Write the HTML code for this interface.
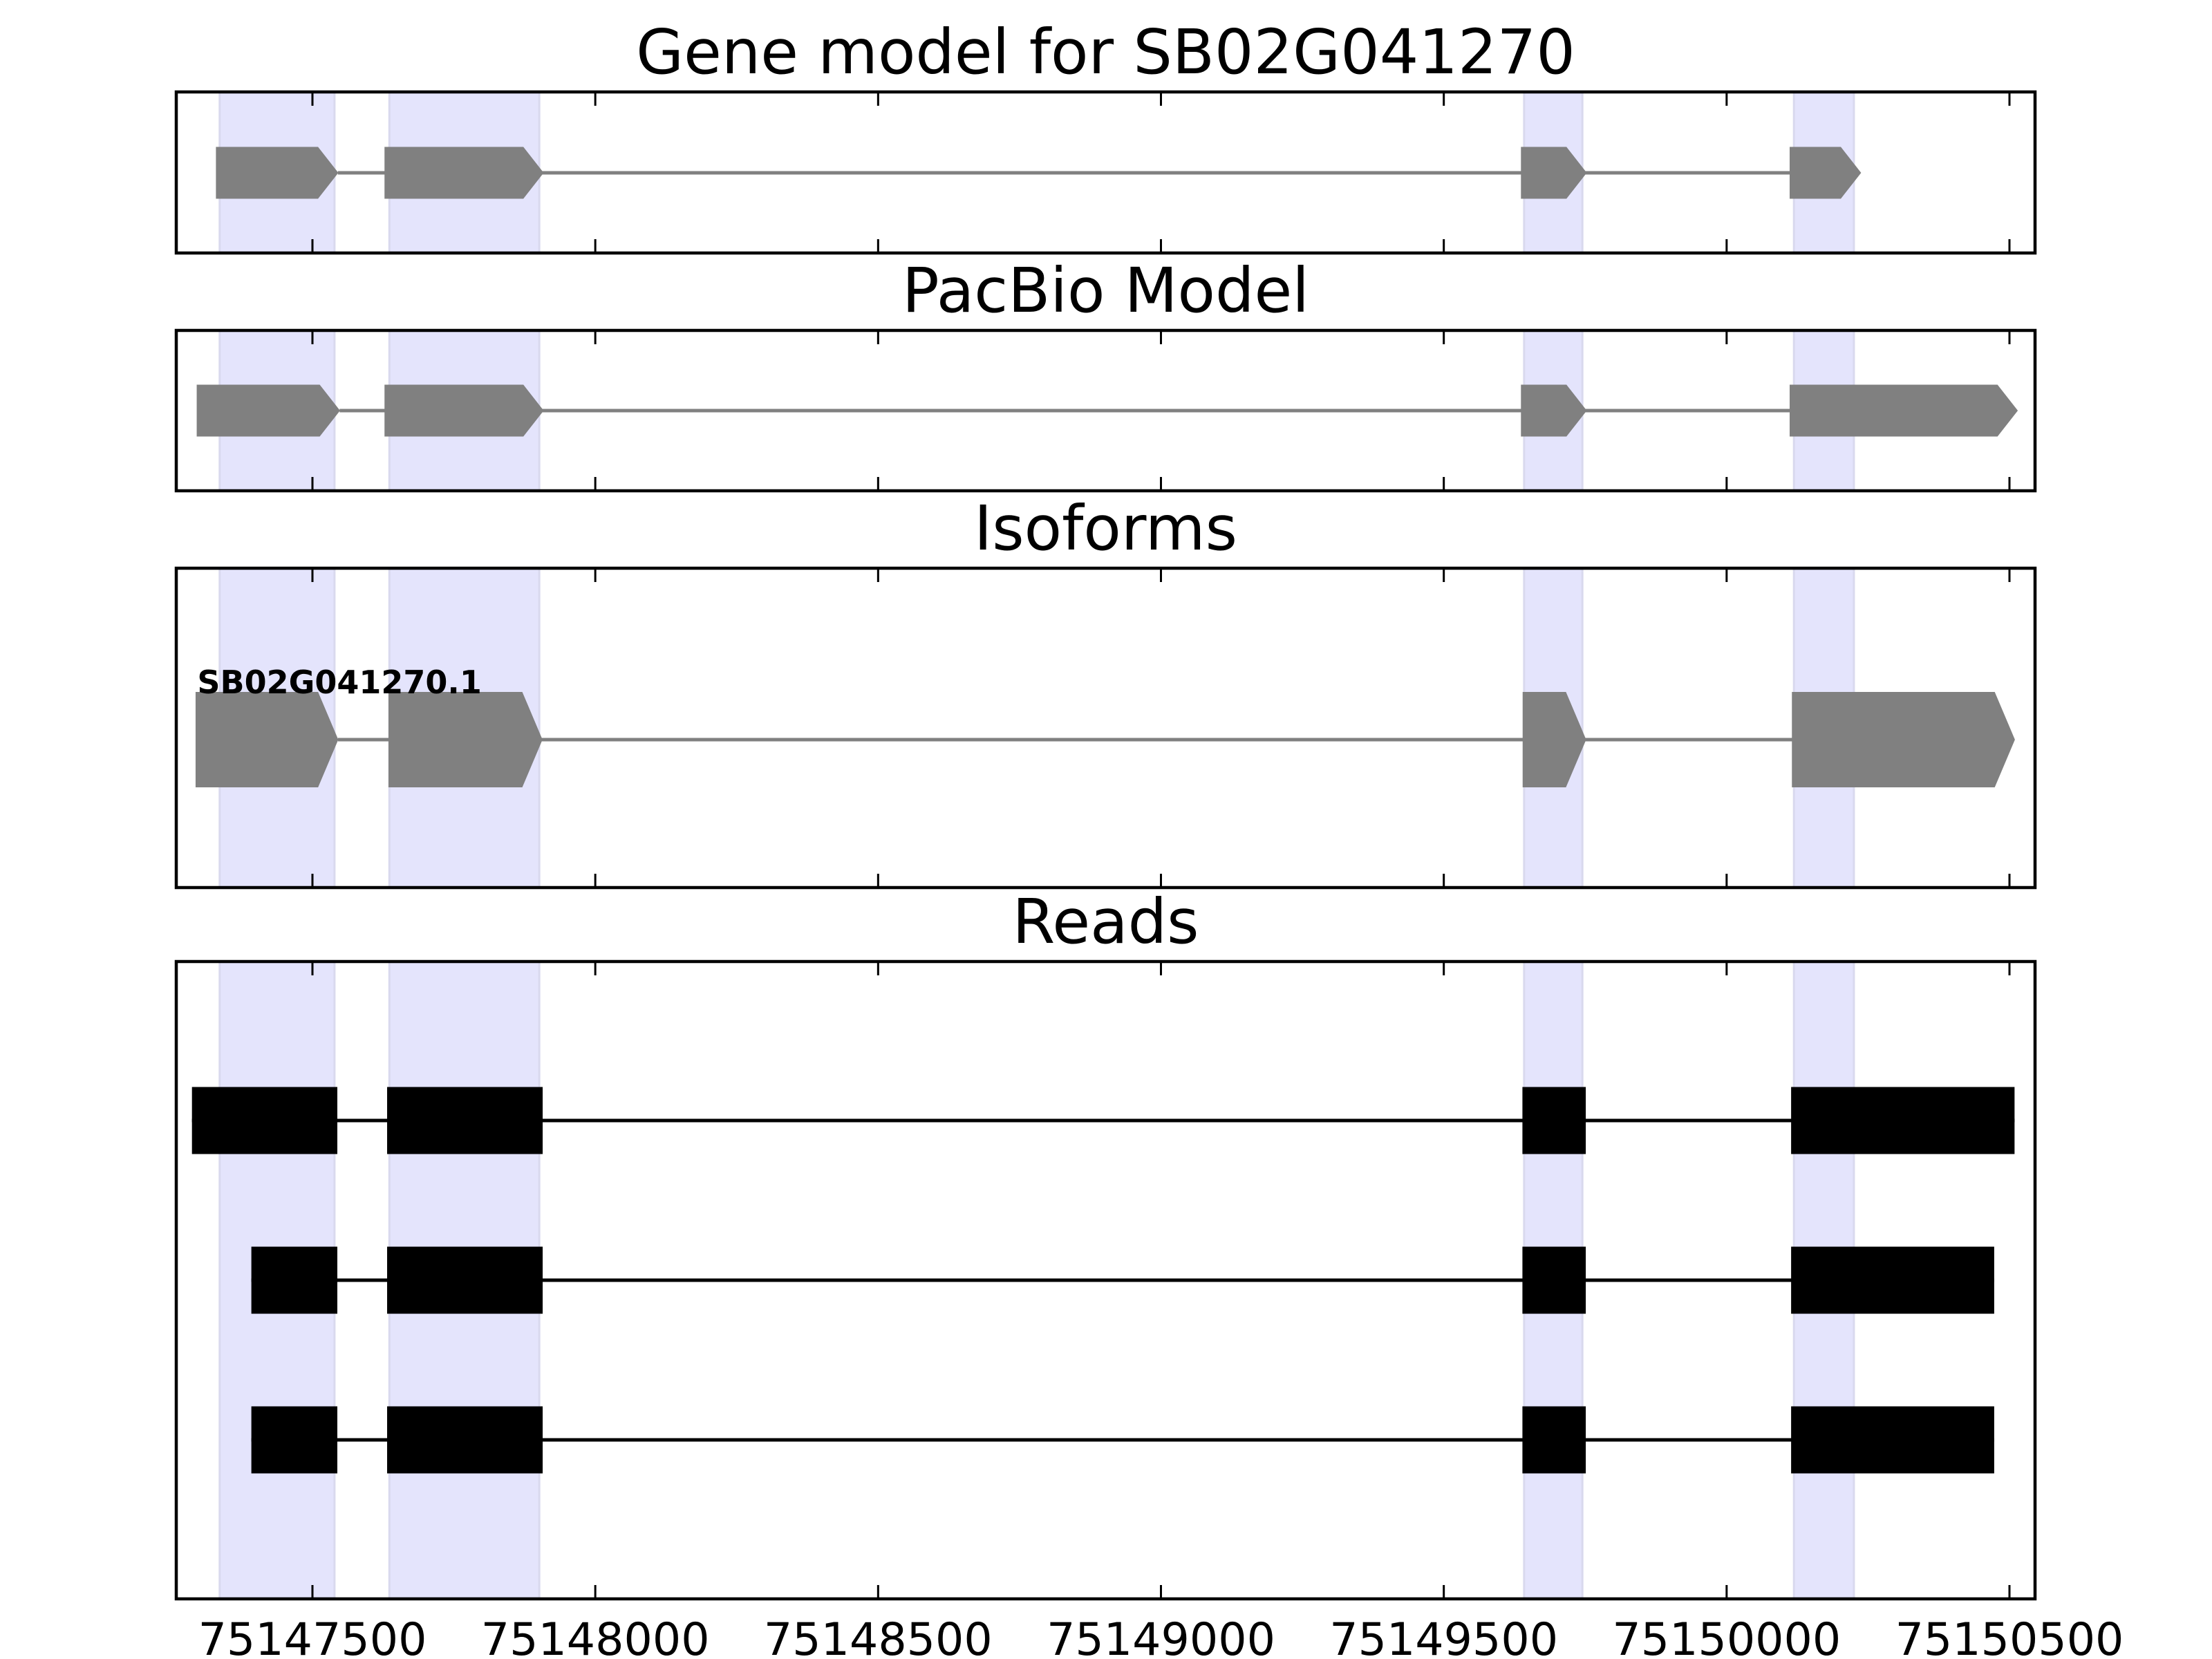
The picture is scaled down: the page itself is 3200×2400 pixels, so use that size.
<!DOCTYPE html>
<html><head><meta charset="utf-8"><style>
html,body{margin:0;padding:0;background:#fff;}
svg{display:block;font-family:"DejaVu Sans","Liberation Sans",sans-serif;}
</style></head><body>
<svg id="chart" width="3200" height="2400" viewBox="0 0 3200 2400" xmlns="http://www.w3.org/2000/svg"></svg>
<script>
// ---- data ----
const tickValues = [75147500, 75148000, 75148500, 75149000, 75149500, 75150000, 75150500];
const tickLabels = ["75147500","75148000","75148500","75149000","75149500","75150000","75150500"];
const panelTitles = ["Gene model for SB02G041270", "PacBio Model", "Isoforms", "Reads"];
const shadedStarts = [75147336, 75147636, 75149642, 75150119];
const shadedEnds   = [75147539, 75147901, 75149745, 75150225];
const geneExonStarts = [75147330, 75147628, 75149637, 75150112];
const geneExonEnds   = [75147545, 75147908, 75149752, 75150237];
const pacbioExonStarts = [75147296, 75147628, 75149637, 75150112];
const pacbioExonEnds   = [75147548, 75147908, 75149752, 75150514];
const isoformExonStarts = [75147294, 75147635, 75149640, 75150116];
const isoformExonEnds   = [75147545, 75147906, 75149751, 75150509];
const isoformLabels = ["SB02G041270.1"];
const read1Starts = [75147287, 75147632, 75149639, 75150114];
const read1Ends   = [75147544, 75147907, 75149751, 75150509];
const read2Starts = [75147392, 75147632, 75149639, 75150114];
const read2Ends   = [75147544, 75147907, 75149751, 75150473];
const read3Starts = [75147392, 75147632, 75149639, 75150114];
const read3Ends   = [75147544, 75147907, 75149751, 75150473];

// ---- layout ----
const NS = "http://www.w3.org/2000/svg";
const svg = document.getElementById('chart');
const X0 = 255, X1 = 2944;
const xMin = 75147500 - (452 - X0) / 0.81833, xMax = 75150500 + (X1 - 2907) / 0.81833;
function xs(v){ return X0 + (v - xMin) / (xMax - xMin) * (X1 - X0); }
const panels = [{top:133,bot:366},{top:478,bot:710},{top:822,bot:1284},{top:1391,bot:2313}];

function mk(tag, attrs, parent){
  const e = document.createElementNS(NS, tag);
  for (const k in attrs) e.setAttribute(k, attrs[k]);
  (parent || svg).appendChild(e);
  return e;
}

function drawPanelBase(i, name){
  const p = panels[i];
  const g = mk('g', {});
  
  
  for (let k = 0; k < shadedStarts.length; k++){
    const r = mk('rect', {x: xs(shadedStarts[k]), y: p.top, width: xs(shadedEnds[k]) - xs(shadedStarts[k]), height: p.bot - p.top, fill: '#e4e4fc', stroke: '#d9d9ee', 'stroke-width': 3}, g);
    
    
  }
  const t = mk('text', {x: (X0 + X1) / 2, y: p.top - 27, 'text-anchor': 'middle', 'font-size': 89, fill: '#000'}, svg);
  t.textContent = panelTitles[i];
  
  
  return g;
}

function drawFrame(i, name, withLabels){
  const p = panels[i];
  const g = mk('g', {});
  
  
  for (let k = 0; k < tickValues.length; k++){
    const x = xs(tickValues[k]);
    const t1 = mk('line', {x1: x, x2: x, y1: p.top, y2: p.top + 20, stroke: '#000', 'stroke-width': 3}, g);
    
    
    const t2 = mk('line', {x1: x, x2: x, y1: p.bot, y2: p.bot - 20, stroke: '#000', 'stroke-width': 3}, g);
    
    
    if (withLabels){
      const tl = mk('text', {x: x, y: 2394, 'text-anchor': 'middle', 'font-size': 65, fill: '#000'}, g);
      tl.textContent = tickLabels[k];
      
      
    }
  }
  const fr = mk('rect', {x: X0, y: p.top, width: X1 - X0, height: p.bot - p.top, fill: 'none', stroke: '#000', 'stroke-width': 4.5}, g);
  
  
}

function drawArrowModel(g, starts, ends, cy, h, name){
  const ln = mk('line', {x1: xs(ends[0]), x2: xs(starts[starts.length-1]), y1: cy, y2: cy, stroke: '#808080', 'stroke-width': 5}, g);
  
  
  const head = 29;
  for (let k = 0; k < starts.length; k++){
    const a = xs(starts[k]), b = xs(ends[k]);
    const f = Math.max(a, b - head);
    const pts = [[a, cy - h/2], [f, cy - h/2], [b, cy], [f, cy + h/2], [a, cy + h/2]].map(q => q.join(',')).join(' ');
    const e = mk('polygon', {points: pts, fill: '#808080', stroke: '#808080', 'stroke-width': 1}, g);
    
    
  }
}

function drawRead(g, starts, ends, cy, idx){
  const ln = mk('line', {x1: xs(starts[0]), x2: xs(ends[ends.length-1]), y1: cy, y2: cy, stroke: '#000', 'stroke-width': 5}, g);
  
  
  for (let k = 0; k < starts.length; k++){
    const r = mk('rect', {x: xs(starts[k]), y: cy - 48.5, width: xs(ends[k]) - xs(starts[k]), height: 97, fill: '#000'}, g);
    
    
  }
}

let g = drawPanelBase(0, 'gene-model');
drawArrowModel(g, geneExonStarts, geneExonEnds, 250, 74, 'gene-model');
drawFrame(0, 'gene-model', false);
g = drawPanelBase(1, 'pacbio-model');
drawArrowModel(g, pacbioExonStarts, pacbioExonEnds, 594, 74, 'pacbio');
drawFrame(1, 'pacbio-model', false);
g = drawPanelBase(2, 'isoforms');
drawArrowModel(g, isoformExonStarts, isoformExonEnds, 1070, 137, 'isoform');
const il = mk('text', {x: xs(isoformExonStarts[0]) + 2, y: 1003, 'font-size': 46, 'font-weight': 'bold', fill: '#000'}, g);
il.textContent = isoformLabels[0];


drawFrame(2, 'isoforms', false);
g = drawPanelBase(3, 'reads');
drawRead(g, read1Starts, read1Ends, 1621, 1);
drawRead(g, read2Starts, read2Ends, 1852, 2);
drawRead(g, read3Starts, read3Ends, 2083, 3);
drawFrame(3, 'reads', true);
</script>
</body></html>
